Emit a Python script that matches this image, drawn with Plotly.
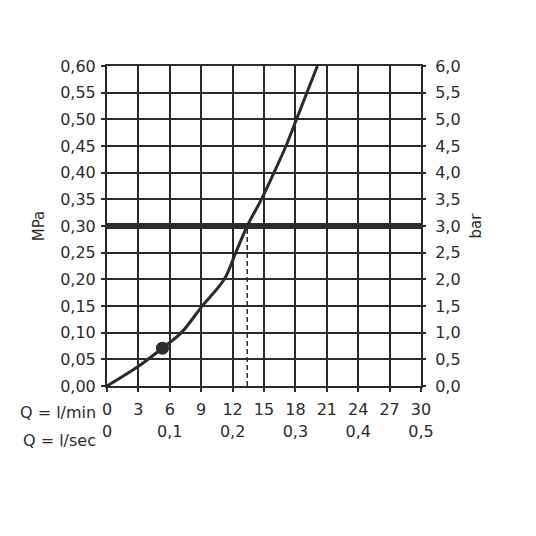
import plotly.graph_objects as go

INK = "#2b2b2b"
FONT = "DejaVu Sans"

# flow (l/min) vs pressure (MPa)
flow_lpm = [0, 3.0, 5.3, 7.1, 9.1, 11.2, 12.3, 13.4, 14.75, 15.95, 17.1, 18.1, 20.1]
pressure_mpa = [0, 0.037, 0.071, 0.10, 0.15, 0.20, 0.25, 0.30, 0.35, 0.40, 0.45, 0.50, 0.60]

# operating point marker
point_flow = [5.3]
point_pressure = [0.071]

# recommended pressure line (bar) over l/sec range, and its flow reading
ref_bar = [3.0, 3.0]
ref_lsec = [0, 0.5]
ref_flow = [13.4, 13.4]
ref_mpa = [0, 0.30]

lsec_ticks = [0, 0.1, 0.2, 0.3, 0.4, 0.5]
lsec_text = ["0", "0,1", "0,2", "0,3", "0,4", "0,5"]

fig = go.Figure()

fig.add_trace(go.Scatter(
    x=ref_lsec, y=ref_bar, xaxis="x2", yaxis="y2", mode="lines",
    line=dict(color=INK, width=6), showlegend=False, hoverinfo="skip",
))
fig.add_trace(go.Scatter(
    x=ref_flow, y=ref_mpa, mode="lines",
    line=dict(color=INK, width=1.5, dash="5px,3px"), showlegend=False,
))
fig.add_trace(go.Scatter(
    x=flow_lpm, y=pressure_mpa, mode="lines",
    line=dict(color=INK, width=3, shape="spline", smoothing=1.0), showlegend=False,
))
fig.add_trace(go.Scatter(
    x=point_flow, y=point_pressure, mode="markers",
    marker=dict(color=INK, size=13), showlegend=False,
))

tick_font = dict(family=FONT, size=16, color=INK)

axis_common = dict(
    showline=True, linecolor=INK, linewidth=2,
    gridcolor=INK, gridwidth=2,
    ticks="outside", ticklen=4, tickwidth=1.5, tickcolor=INK,
    tickfont=tick_font, zeroline=False, automargin=False,
)

# page body adds 8px offset, so the figure is 528 px and margins are shifted
fig.update_layout(
    width=528, height=528,
    margin=dict(l=99, r=115, t=58, b=150),
    plot_bgcolor="white", paper_bgcolor="white",
    separators=", ",
    font=dict(family=FONT, color=INK),
    xaxis=dict(range=[0, 30], dtick=3, mirror=True, ticklabelstandoff=4, **axis_common),
    yaxis=dict(range=[0, 0.6], dtick=0.05, tickformat=".2f", mirror=True,
               ticklabelstandoff=2,
               title=dict(text="MPa", font=dict(size=15), standoff=12), **axis_common),
    xaxis2=dict(range=[0, 0.5], overlaying="x", side="bottom", anchor="y",
                tickvals=lsec_ticks, ticktext=lsec_text, showgrid=False,
                showline=False, ticks="", ticklabelstandoff=34, automargin=False,
                tickfont=tick_font),
    yaxis2=dict(range=[0, 6], dtick=0.5, tickformat=".1f", overlaying="y", side="right",
                showgrid=False, showline=False, ticks="outside", ticklen=4, tickwidth=1.5,
                tickcolor=INK, zeroline=False, automargin=False, ticklabelstandoff=6,
                tickfont=tick_font,
                title=dict(text="bar", font=dict(size=15), standoff=10)),
    annotations=[
        dict(text="Q = l/min", xref="paper", yref="paper", x=-0.03, y=-0.084,
             xanchor="right", yanchor="middle", showarrow=False,
             font=tick_font),
        dict(text="Q = l/sec", xref="paper", yref="paper", x=-0.03, y=-0.169,
             xanchor="right", yanchor="middle", showarrow=False,
             font=tick_font),
    ],
)

fig.write_html("out.html")
